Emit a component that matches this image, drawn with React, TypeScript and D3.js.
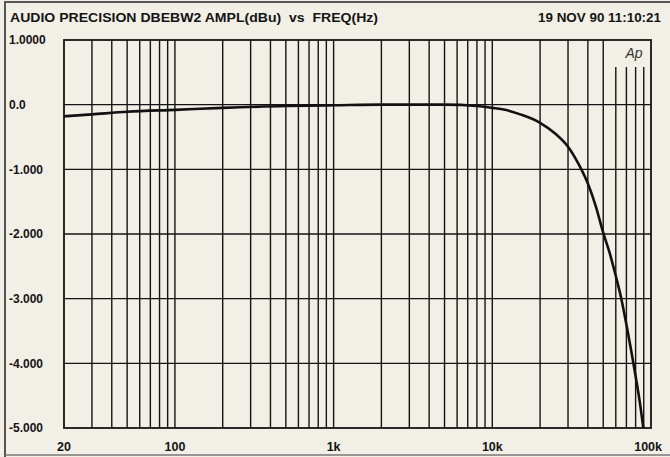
import { useEffect, useRef } from 'react';
import * as d3 from 'd3';

// Frequency response readings (Hz / dBu)
const freqs = [20, 30, 50, 100, 200, 500, 1000, 2000, 5000, 8000, 10000, 12000, 15000, 20000, 25000, 30000, 35000, 40000, 45000, 50000, 55000, 60000, 65000, 70000, 75000, 80000, 85000, 90000];
const ampl = [-0.18, -0.15, -0.11, -0.08, -0.05, -0.02, -0.01, 0, 0, -0.02, -0.05, -0.08, -0.15, -0.28, -0.45, -0.65, -0.92, -1.22, -1.58, -1.98, -2.3, -2.65, -3.0, -3.4, -3.8, -4.2, -4.6, -5.05];

const yTicks = [1, 0, -1, -2, -3, -4, -5];
const yTickLabels = ['1.0000', '0.0', '-1.000', '-2.000', '-3.000', '-4.000', '-5.000'];
const xLabelFreqs = [20, 100, 1000, 10000, 100000];
const xLabels = ['20', '100', '1k', '10k', '100k'];
const gridFreqs = [
  30, 40, 50, 60, 70, 80, 90, 100, 200, 300, 400, 500, 600, 700, 800, 900, 1000,
  2000, 3000, 4000, 5000, 6000, 7000, 8000, 9000, 10000,
  20000, 30000, 40000, 50000, 60000, 70000, 80000, 90000,
];

const titleText = 'AUDIO PRECISION DBEBW2 AMPL(dBu)  vs  FREQ(Hz)';
const dateText = '19 NOV 90 11:10:21';

export default function App() {
  const svgRef = useRef<SVGSVGElement>(null);

  useEffect(() => {
    if (!svgRef.current) return;
    const svg = d3.select(svgRef.current);
    svg.selectAll('*').remove();

    const W = 670, H = 457;
    const plot = { left: 64, right: 651, top: 40, bottom: 428 };
    const font = '"Liberation Sans", Arial, sans-serif';
    const ink = '#141414';

    const x = d3.scaleLog().domain([20, 100000]).range([plot.left, plot.right]);
    const y = d3.scaleLinear().domain([-5, 1]).range([plot.bottom, plot.top]);

    svg.append('rect').attr('width', W).attr('height', H).attr('fill', '#f2efe6');

    // outer frame of the print
    svg.append('path')
      .attr('d', `M5,${H} L5,2 L${W},2`)
      .attr('fill', 'none').attr('stroke', '#555').attr('stroke-width', 2);
    svg.append('line')
      .attr('x1', 5).attr('x2', W).attr('y1', 455).attr('y2', 455)
      .attr('stroke', '#777').attr('stroke-width', 1.5);

    // title + date
    svg.append('text')
      .attr('x', 10).attr('y', 22)
      .attr('textLength', 368).attr('lengthAdjust', 'spacingAndGlyphs')
      .style('white-space', 'pre')
      .style('font-family', font).style('font-weight', 'bold').style('font-size', '12.5px')
      .attr('fill', ink).text(titleText);
    svg.append('text')
      .attr('x', 538).attr('y', 22)
      .attr('textLength', 123).attr('lengthAdjust', 'spacingAndGlyphs')
      .style('font-family', font).style('font-weight', 'bold').style('font-size', '12.5px')
      .attr('fill', ink).text(dateText);

    const g = svg.append('g');

    // vertical grid
    gridFreqs.forEach(f => {
      g.append('line')
        .attr('x1', x(f)).attr('x2', x(f))
        .attr('y1', f >= 60000 ? 67 : plot.top).attr('y2', plot.bottom)
        .attr('stroke', ink).attr('stroke-width', 1.4);
    });

    // horizontal grid
    yTicks.slice(1, -1).forEach(v => {
      g.append('line')
        .attr('x1', plot.left).attr('x2', plot.right)
        .attr('y1', y(v)).attr('y2', y(v))
        .attr('stroke', ink).attr('stroke-width', 1.4);
    });

    g.append('rect')
      .attr('x', plot.left).attr('y', plot.top)
      .attr('width', plot.right - plot.left).attr('height', plot.bottom - plot.top)
      .attr('fill', 'none').attr('stroke', ink).attr('stroke-width', 1.8);

    // Ap logo
    svg.append('text')
      .attr('x', 634).attr('y', 58)
      .attr('text-anchor', 'middle')
      .style('font-family', font).style('font-style', 'italic').style('font-size', '14px')
      .attr('fill', '#333').text('Ap');

    // curve
    svg.append('clipPath').attr('id', 'plot-clip')
      .append('rect')
      .attr('x', plot.left).attr('y', plot.top)
      .attr('width', plot.right - plot.left).attr('height', plot.bottom - plot.top);

    const pts: [number, number][] = freqs.map((f, i) => [f, ampl[i]]);
    const line = d3.line<[number, number]>()
      .x(d => x(d[0]))
      .y(d => y(d[1]))
      .curve(d3.curveMonotoneX);

    svg.append('path')
      .datum(pts)
      .attr('clip-path', 'url(#plot-clip)')
      .attr('d', line)
      .attr('fill', 'none')
      .attr('stroke', '#111')
      .attr('stroke-width', 2.6)
      .attr('stroke-linejoin', 'round');

    // y labels
    yTicks.forEach((v, i) => {
      svg.append('text')
        .attr('x', 9).attr('y', y(v)).attr('dy', '0.35em')
        .style('font-family', font).style('font-weight', 'bold').style('font-size', '12px')
        .attr('fill', ink).text(yTickLabels[i]);
    });

    // x labels
    xLabelFreqs.forEach((f, i) => {
      const last = i === xLabelFreqs.length - 1;
      svg.append('text')
        .attr('x', last ? x(f) + 11 : x(f)).attr('y', 451)
        .attr('text-anchor', last ? 'end' : 'middle')
        .style('font-family', font).style('font-weight', 'bold').style('font-size', '12.5px')
        .attr('fill', ink).text(xLabels[i]);
    });
  }, []);

  return (
    <svg
      ref={svgRef}
      width={670}
      height={457}
      style={{ position: 'absolute', left: 0, top: 0, display: 'block' }}
    />
  );
}
